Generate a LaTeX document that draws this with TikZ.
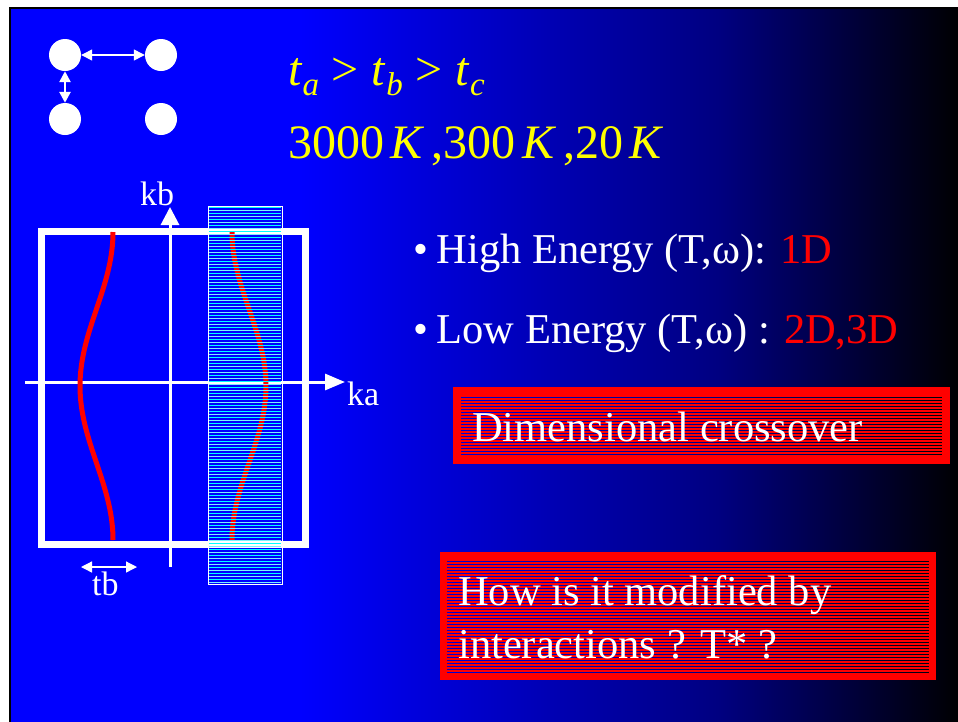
\documentclass[tikz,border=0pt]{standalone}
\usepackage{fontspec}
\setmainfont{Liberation Serif}
\usetikzlibrary{arrows.meta}
\definecolor{slideblue}{RGB}{0,0,255}
\definecolor{midblue}{RGB}{0,0,128}
\definecolor{ttlyellow}{RGB}{255,255,0}
\definecolor{pred}{RGB}{255,0,0}
\definecolor{lcyan}{RGB}{0,255,255}
\definecolor{pcyan}{RGB}{120,240,255}
\newcommand\tsub[1]{\textit{t}\raisebox{-0.22em}{\fontsize{33}{33}\selectfont\textit{#1}}}
\begin{document}
\begin{tikzpicture}[x=1pt,y=-1pt,
  dot/.style={circle,fill=white,minimum size=32pt,inner sep=0pt},
  wtxt/.style={text=white,anchor=base west,inner sep=0pt,font=\fontsize{42.5}{50}\selectfont},
  ytxt/.style={text=ttlyellow,anchor=base west,inner sep=0pt,font=\fontsize{48}{56}\selectfont},
  ktxt/.style={text=white,anchor=base west,inner sep=0pt,font=\fontsize{34}{40}\selectfont},
  smalltip/.tip={Triangle[length=11pt,width=11pt]},
  ]
\useasboundingbox (0,0) rectangle (958,721);
% background
\fill[white] (0,0) rectangle (958,721);
\fill[slideblue] (10,7) rectangle (300.5,725);
\shade[left color=slideblue,right color=midblue] (300,7) rectangle (720.5,725);
\shade[left color=midblue,right color=black] (720,7) rectangle (962,725);
\draw[black,line width=2.5] (10,725) -- (10,8) -- (962,8);

% four sites
\node[dot] (c1) at (65,55) {};
\node[dot] (c2) at (161,55) {};
\node[dot] (c3) at (65,119) {};
\node[dot] (c4) at (161,119) {};
\draw[white,line width=1.3,smalltip-smalltip] (c1) -- (c2);
\draw[white,line width=2.5,smalltip-smalltip] (c1) -- (c3);

% title
\node[ytxt] (t1) at (288,85) {\tsub{a}\hspace{0.27em}>\hspace{0.27em}\tsub{b}\hspace{0.27em}>\hspace{0.27em}\tsub{c}};
\node[ytxt] (t2) at (288,158) {3000\hspace{0.14em}\textit{K}\hspace{0.14em},300\hspace{0.14em}\textit{K}\hspace{0.14em},20\hspace{0.14em}\textit{K}};

% Brillouin zone
\node[draw=white,line width=7,minimum width=264pt,minimum height=313pt,inner sep=0pt] (bz) at (173,387.5) {};
\coordinate (kaL) at (25,382);
\coordinate (kaR) at (345,382);
\coordinate (kbB) at (170,567);
\coordinate (kbT) at (170,207);
\draw[white,line width=3,-{Triangle[length=20pt,width=16pt]}] (kaL) -- (kaR);
\draw[white,line width=3,-{Triangle[length=18pt,width=18pt]}] (kbB) -- (kbT);
\node[ktxt] (ka) at (347,405) {ka};
\node[ktxt,anchor=base] (kb) at (157,205) {kb};

% solid Fermi surface sheet
\draw[pred,line width=5] plot[domain=232:540,samples=80] ({80+16.5*(1-cos(1.16883*(\x-386)))},\x);
% warped sheet inside the striped band
\draw[pred,line width=5] plot[domain=232:540,samples=80] ({266-17*(1-cos(1.16883*(\x-386)))},\x);

% striped band
\foreach \i in {0,...,125}{
  \ifodd\i
    \draw[pcyan,line width=0.9] (209,207.5+3*\i) -- (281,207.5+3*\i);
  \else
    \draw[lcyan,line width=0.9] (209,207.5+3*\i) -- (281,207.5+3*\i);
  \fi
}
\node[draw=white,line width=1,minimum width=74pt,minimum height=378pt,inner sep=0pt] (band) at (245,395) {};

% tb arrow
\coordinate (tbL) at (81,567);
\coordinate (tbR) at (137,567);
\draw[white,line width=1.3,smalltip-smalltip] (tbL) -- (tbR);
\node[ktxt] (tb) at (92,595) {tb};

% bullets
\node[wtxt] (b1) at (413,263) {•\hspace{0.2em}High Energy (T,ω): \textcolor{pred}{1D}};
\node[wtxt] (b2) at (413,343) {•\hspace{0.2em}Low Energy (T,ω) : \textcolor{pred}{2D,3D}};

% box 1
\node[draw=pred,line width=8,minimum width=489pt,minimum height=69pt,inner sep=0pt] (box1) at (701.5,425.5) {};
\foreach \i in {0,...,20}{
  \draw[pred,line width=1.2] (461,396+3*\i) -- (942,396+3*\i);
}
\node[wtxt] (box1t) at (472,441) {Dimensional crossover};

% box 2
\node[draw=pred,line width=7,minimum width=489pt,minimum height=121pt,inner sep=0pt] (box2) at (688,616) {};
\foreach \i in {0,...,37}{
  \draw[pred,line width=1.2] (447,560+3*\i) -- (929,560+3*\i);
}
\node[wtxt] (box2a) at (458,605) {How is it modified by};
\node[wtxt] (box2b) at (458,658) {interactions ? T* ?};
\end{tikzpicture}
\end{document}
